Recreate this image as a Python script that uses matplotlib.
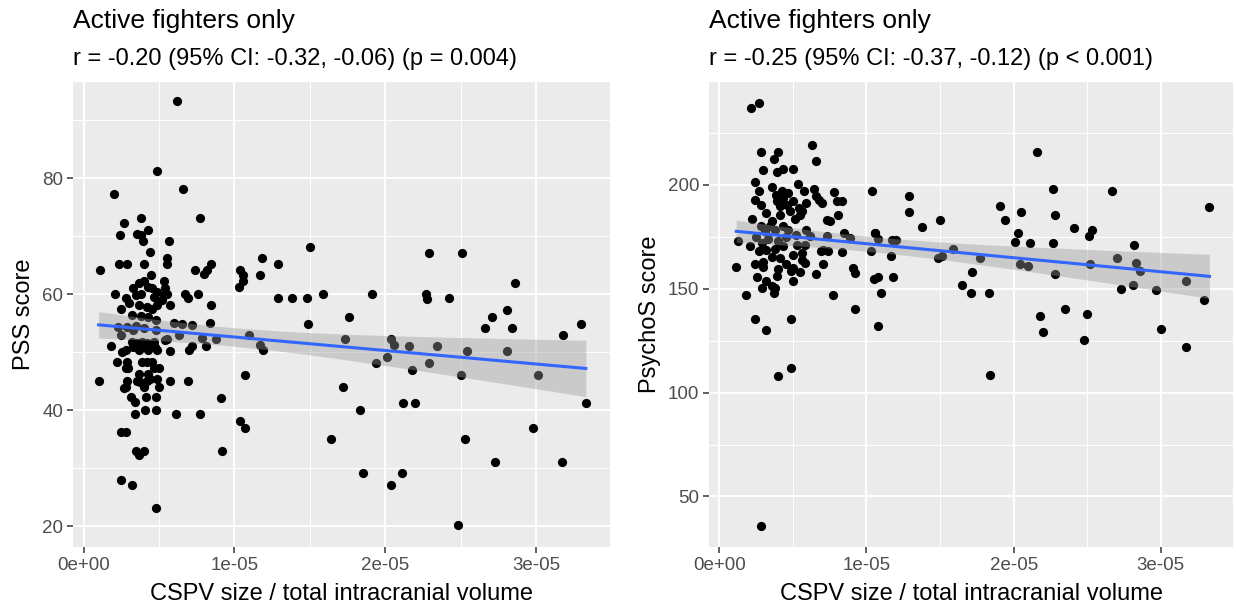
#Recreación de dos diagramas de dispersión con ajuste lineal (estilo ggplot)
import numpy as np
import matplotlib.pyplot as plt
from matplotlib.ticker import FuncFormatter, MultipleLocator

plt.rcParams['font.family'] = ['Liberation Sans', 'DejaVu Sans']

#Datos (x en unidades de 1e-5)
pss_x = [0.62, 0.49, 0.66, 0.20, 0.77, 0.265, 0.38, 0.24, 0.355, 0.38,
         0.425, 0.395, 0.565, 0.44, 0.55, 0.55, 0.235, 0.285, 0.40, 0.11,
         0.45, 0.74, 0.80, 0.845, 0.82, 1.04, 1.06, 1.18, 1.17, 1.06, 1.03,
         0.33, 0.37, 0.40, 0.43, 0.455, 0.49, 0.53, 0.54, 0.53, 0.52,
         0.21, 0.28, 0.30, 0.345, 0.37, 0.42, 0.455, 0.49, 0.245, 0.575,
         0.55, 0.675, 0.69, 0.76, 0.845, 0.38, 0.47,
         0.32, 0.38, 0.43, 0.48, 0.23, 0.29, 0.345, 0.40, 0.60, 0.65,
         0.72, 0.84, 0.245, 0.33, 0.48, 0.63, 0.54, 0.785, 0.815, 0.88,
         1.095, 1.17, 1.19,
         0.18, 0.32, 0.33, 0.355, 0.365, 0.385, 0.395, 0.42, 0.43, 0.465,
         0.475, 0.49, 0.28, 0.255, 0.575, 0.55, 0.70, 0.72,
         0.22, 0.29, 0.28, 0.295, 0.39, 0.42, 0.455, 0.465, 0.50,
         0.10, 0.365, 0.355, 0.375, 0.43, 0.44, 0.42, 0.49, 0.29, 0.28,
         0.27, 0.40, 0.50, 0.575, 0.69, 1.07,
         0.315, 0.34, 0.415, 0.48, 0.91, 0.405, 0.48, 0.34, 0.61, 0.77,
         1.04, 1.07, 0.25, 0.28, 0.35, 0.40, 0.37, 0.92, 0.245, 0.32, 0.48,
         1.29, 1.50, 1.29, 1.385, 1.48, 1.59, 1.49, 1.76, 1.91, 1.73,
         2.04, 2.055, 2.01, 1.94, 2.16, 2.18, 2.29, 2.34, 2.29, 2.51,
         2.27, 2.28, 2.42, 2.54, 2.50, 2.66, 2.71, 2.81, 2.84, 2.86,
         2.81, 3.01, 3.18, 3.30, 3.33, 1.72, 1.83, 2.12, 2.20, 1.64,
         2.53, 2.98, 1.85, 2.11, 2.04, 2.73, 3.17, 2.48]
pss_y = [93.3, 81.2, 78.1, 77.2, 73.1, 72.2, 73.1, 70.2, 70.3, 70.2,
         71.0, 69.1, 69.1, 67.2, 66.3, 65.2, 65.2, 65.2, 65.2, 64.1,
         63.3, 64.1, 63.4, 65.2, 64.2, 64.2, 63.3, 66.3, 63.3, 62.2, 61.3,
         61.1, 61.9, 62.2, 61.3, 61.0, 60.4, 62.2, 61.0, 59.8, 59.0,
         60.1, 59.3, 58.4, 59.8, 58.2, 57.8, 57.5, 58.1, 57.5, 58.1,
         60.1, 60.1, 59.3, 60.1, 58.1, 60.0, 59.5,
         56.4, 56.3, 56.1, 55.5, 54.3, 54.3, 54.6, 54.1, 55.0, 54.9,
         54.7, 55.1, 52.9, 53.8, 53.8, 53.0, 52.1, 52.4, 51.1, 52.2,
         53.0, 51.3, 50.3,
         51.1, 51.8, 50.9, 51.5, 50.3, 51.8, 50.9, 51.5, 50.3, 51.8,
         50.9, 50.3, 50.3, 50.0, 50.2, 52.2, 50.3, 51.1,
         48.3, 48.3, 47.2, 47.2, 48.3, 48.3, 48.3, 47.3, 47.2,
         45.1, 46.3, 45.1, 44.8, 46.3, 45.4, 45.0, 45.4, 45.1, 44.0,
         43.8, 44.0, 44.0, 45.1, 45.1, 46.0,
         42.2, 41.4, 42.2, 42.2, 42.1, 40.1, 40.1, 39.3, 39.3, 39.3,
         38.2, 37.0, 36.2, 36.2, 33.0, 33.0, 32.2, 33.0, 28.0, 27.1, 23.2,
         65.2, 68.2, 59.3, 59.3, 59.3, 60.0, 54.9, 56.0, 60.0, 52.2,
         52.2, 51.2, 49.1, 48.2, 51.1, 47.0, 48.2, 51.1, 67.1, 67.1,
         60.1, 59.1, 59.3, 50.2, 46.0, 54.2, 56.0, 57.2, 54.2, 62.0,
         50.2, 46.0, 53.0, 54.9, 41.2, 44.0, 40.1, 41.2, 41.2, 35.1,
         35.1, 37.0, 29.1, 29.1, 27.1, 31.0, 31.0, 20.2]

psy_x = [0.215, 0.27, 0.63, 0.66, 0.28, 0.40, 0.37, 0.30, 0.39, 0.435,
         0.50, 0.245, 0.36, 0.535, 0.575, 0.64,
         0.27, 0.245, 0.28, 0.385, 0.425, 0.435, 0.47, 0.39, 0.41, 0.46,
         0.50, 0.54, 0.56, 0.59, 0.66, 0.68, 0.70, 0.78, 0.80, 0.835,
         0.805, 0.75, 0.73, 0.22, 0.32, 0.36, 0.41, 0.48, 0.515, 0.55,
         0.28, 0.31, 0.345, 0.38, 0.435, 0.47, 0.125, 0.59, 0.615, 0.73,
         0.85, 0.885, 1.055,
         0.21, 0.29, 0.32, 0.435, 0.525, 0.58, 0.56, 0.705, 0.74, 0.835, 0.69,
         0.25, 0.33, 0.40, 0.45, 0.36, 0.30, 0.45, 0.52, 0.27, 0.38,
         0.41, 0.50, 0.56, 0.58, 0.705, 0.66, 0.115, 0.245, 0.30, 0.255,
         0.40, 0.39, 0.32, 0.36, 0.29, 0.38, 0.37, 0.50, 0.49, 0.55,
         0.50, 0.18, 0.77, 0.925, 0.905, 0.925, 0.245, 0.49, 0.32, 0.49,
         0.40, 0.28,
         1.04, 1.29, 1.29, 1.38, 1.50, 1.06, 1.075, 1.03, 1.165, 1.17,
         1.20, 1.05, 1.075, 1.10, 1.18, 1.08, 1.485, 1.51, 1.59, 1.65,
         1.72, 1.71, 1.77, 1.83, 1.84, 1.91, 1.94, 2.05, 2.03, 2.01,
         2.11, 2.04, 2.10, 2.16, 2.27, 2.28, 2.27, 2.28, 2.18, 2.20,
         2.35, 2.41, 2.51, 2.535, 2.52, 2.50, 2.48, 2.665, 2.70, 2.82,
         2.83, 2.86, 2.73, 2.81, 2.97, 3.00, 3.17, 3.17, 3.29, 3.33]
psy_y = [236.8, 239.2, 218.9, 211.2, 215.7, 215.7, 212.3, 207.2, 205.9, 207.7,
         207.5, 201.1, 198.9, 200.5, 197.1, 197.9,
         196.8, 192.8, 190.4, 195.2, 196.8, 193.6, 196.0, 192.0, 189.6, 190.4,
         192.0, 188.8, 187.2, 191.2, 194.4, 192.8, 191.2, 196.3, 192.3, 192.3,
         185.3, 182.4, 183.2, 183.5, 186.4, 182.4, 185.6, 187.2, 183.5, 185.6,
         180.0, 177.6, 180.0, 178.4, 180.0, 178.4, 172.8, 178.4, 175.2, 175.2,
         176.8, 174.4, 176.8,
         170.4, 172.0, 168.8, 170.4, 171.2, 171.2, 167.2, 168.8, 168.0, 167.5, 168.0,
         175.0, 174.0, 173.0, 175.0, 165.0, 163.0, 162.0, 176.0, 168.0, 169.0,
         164.5, 166.4, 164.0, 162.4, 161.9, 157.1, 160.3, 161.9, 160.3, 155.5,
         159.2, 156.0, 153.6, 151.2, 150.4, 150.4, 148.0, 160.0, 158.7, 158.1,
         153.9, 146.8, 146.8, 140.0, 160.0, 157.6, 135.5, 135.5, 129.9, 112.0,
         107.9, 35.9,
         197.1, 194.7, 186.7, 179.8, 182.9, 176.6, 173.9, 168.0, 165.9, 173.6,
         173.6, 154.4, 155.7, 147.8, 155.7, 132.1, 164.8, 165.5, 168.9, 151.6,
         157.9, 147.8, 164.8, 147.8, 108.6, 189.9, 182.9, 186.7, 176.6, 172.6,
         172.0, 161.9, 161.1, 215.7, 197.7, 185.3, 172.0, 157.1, 136.7, 128.9,
         140.0, 179.0, 175.2, 178.2, 161.9, 137.6, 125.1, 197.0, 164.9, 171.2,
         162.5, 158.7, 150.0, 151.6, 149.4, 130.5, 153.9, 121.9, 144.6, 189.1]

titulo = "Active fighters only"
sub_pss = "r = -0.20 (95% CI: -0.32, -0.06) (p = 0.004)"
sub_psy = "r = -0.25 (95% CI: -0.37, -0.12) (p < 0.001)"
xlab = "CSPV size / total intracranial volume"


def ajuste(x, y, n=80):
    #recta de mínimos cuadrados con banda de confianza del 95%
    x = np.asarray(x); y = np.asarray(y)
    b1, b0 = np.polyfit(x, y, 1)
    xs = np.linspace(x.min(), x.max(), n)
    yh = b0 + b1*xs
    s = np.sqrt(np.sum((y - (b0 + b1*x))**2)/(len(x) - 2))
    se = s*np.sqrt(1/len(x) + (xs - x.mean())**2/np.sum((x - x.mean())**2))
    return xs, yh, yh - 1.973*se, yh + 1.973*se


def panel(ax, x, y, ylab, ylim, major, titulo, subtitulo):
    ax.set_facecolor('#EBEBEB')
    for s in ax.spines.values():
        s.set_visible(False)
    ax.scatter(x, y, s=44, color='black', linewidths=0, zorder=3)
    xs, yh, lo, hi = ajuste(x, y)
    ax.fill_between(xs, lo, hi, color='#999999', alpha=0.4, linewidth=0, zorder=4)
    ax.plot(xs, yh, color='#3366FF', lw=2.2, zorder=5)
    ax.set_xlim(-0.07, 3.49)
    ax.set_ylim(*ylim)
    ax.xaxis.set_major_locator(MultipleLocator(1))
    ax.xaxis.set_minor_locator(MultipleLocator(0.5))
    ax.yaxis.set_major_locator(MultipleLocator(major))
    ax.yaxis.set_minor_locator(MultipleLocator(major/2))
    ax.xaxis.set_major_formatter(FuncFormatter(lambda v, p: f"{v*1e-5:.0e}"))
    ax.grid(which='major', color='white', lw=1.4, zorder=0)
    ax.grid(which='minor', color='white', lw=0.7, zorder=0)
    ax.set_axisbelow(True)
    ax.tick_params(which='major', length=4, width=1.1, color='#333333',
                   labelcolor='#4D4D4D', labelsize=13.5, pad=3)
    ax.tick_params(which='minor', length=0)
    ax.set_xlabel(xlab, fontsize=17, labelpad=7)
    ax.set_ylabel(ylab, fontsize=17, labelpad=5)
    pos = ax.get_position()
    fig.text(pos.x0, 1 - 21/614, titulo, fontsize=19, va='center', ha='left')
    fig.text(pos.x0, 1 - 59/614, subtitulo, fontsize=17, va='center', ha='left')


fig = plt.figure(figsize=(12.36, 6.14), dpi=100)
abajo, alto = (614 - 547)/614, (547 - 82)/614
ax1 = fig.add_axes([73/1236, abajo, (610 - 73)/1236, alto])
ax2 = fig.add_axes([709/1236, abajo, (1233 - 709)/1236, alto])

panel(ax1, pss_x, pss_y, "PSS score", (16.4, 96.6), 20, titulo, sub_pss)
panel(ax2, psy_x, psy_y, "PsychoS score", (25.7, 249.4), 50, titulo, sub_psy)

fig.savefig("out.png", dpi=100)
